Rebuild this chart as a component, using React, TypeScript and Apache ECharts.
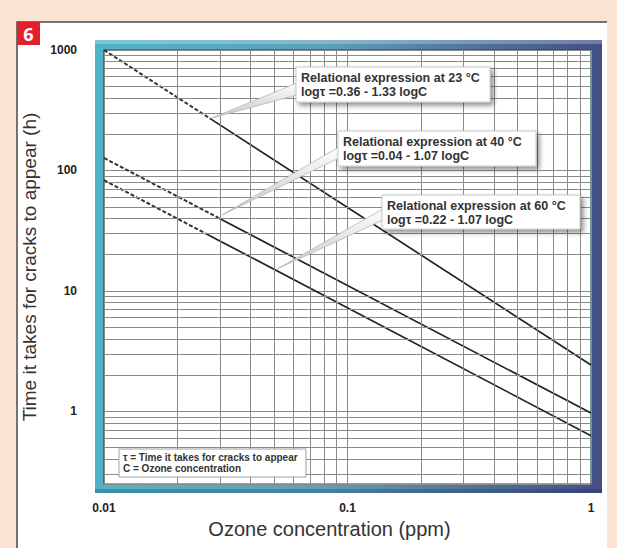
import React, { useEffect, useRef } from "react";
import * as echarts from "echarts";

// ---------- data ----------
const xLabelTicks = [0.01, 0.1, 1];
const yLabelTicks = [1, 10, 100, 1000];
const xMinorGridValues = [0.02, 0.03, 0.04, 0.05, 0.06, 0.07, 0.08, 0.09, 0.2, 0.3, 0.4, 0.5, 0.6, 0.7, 0.8, 0.9];
const yMinorGridValues = [
  0.3, 0.4, 0.5, 0.6, 0.7, 0.8, 0.9,
  2, 3, 4, 5, 6, 7, 8, 9,
  20, 30, 40, 50, 60, 70, 80, 90,
  200, 300, 400, 500, 600, 700, 800, 900,
];

// [ozone concentration (ppm), time to cracks (h)]
const extrapolated23 = [[0.01, 1000], [0.0275, 267]];
const measured23 = [[0.0275, 267], [1, 2.43]];
const extrapolated40 = [[0.01, 127], [0.0294, 40.6]];
const measured40 = [[0.0294, 40.6], [1, 0.97]];
const extrapolated60 = [[0.01, 83], [0.026, 30.2]];
const measured60 = [[0.026, 30.2], [1, 0.63]];

const calloutTitles = [
  "Relational expression at 23 °C",
  "Relational expression at 40 °C",
  "Relational expression at 60 °C",
];
const calloutFormulas = [
  "logτ =0.36 - 1.33 logC",
  "logτ =0.04 - 1.07 logC",
  "logτ =0.22 - 1.07 logC",
];
const legendLines = ["τ = Time it takes for cracks to appear", "C = Ozone concentration"];
const xAxisTitle = "Ozone concentration (ppm)";
const yAxisTitle = "Time it takes for cracks to appear (h)";
const badgeText = "6";

// ---------- layout ----------
const FONT = '"Liberation Sans", Arial, Helvetica, sans-serif';
const GRID = { left: 104, top: 50, width: 487, height: 434 };

const calloutBoxes = [
  { x: 296, y: 67, w: 194, h: 35, leader: [[297, 83], [297, 95], [212, 118]] },
  { x: 338, y: 131, w: 198, h: 35, leader: [[339, 147], [339, 158], [222, 215]] },
  { x: 382, y: 195, w: 198, h: 34, leader: [[383, 209], [383, 220], [277, 269]] },
];

function matchTick(list: number[], v: number) {
  return list.find((t) => Math.abs(Math.log10(t) - Math.log10(v)) < 1e-6);
}

export default function App() {
  const ref = useRef<HTMLDivElement>(null);

  useEffect(() => {
    if (!ref.current) return;
    const chart = echarts.init(ref.current, undefined, { renderer: "svg" });

    const solid = { color: "#222", width: 1.7, type: "solid" as const };
    const dashed = { color: "#333", width: 2, type: [4, 2] as any };
    const mkLine = (name: string, data: number[][], style: any) => ({
      name,
      type: "line",
      data,
      symbol: "none",
      showSymbol: false,
      silent: true,
      z: 3,
      lineStyle: style,
    });

    const graphics: any[] = [];
    // page panel
    graphics.push({
      type: "rect", z: -30, silent: true,
      shape: { x: 17, y: 22, width: 590, height: 540 },
      style: { fill: "#ffffff" },
    });
    graphics.push({
      type: "polyline", z: -29, silent: true,
      shape: { points: [[17, 548], [17, 22], [607, 22]] },
      style: { stroke: "#4a4a4a", lineWidth: 1.5, fill: null },
    });
    // badge
    graphics.push({
      type: "rect", z: -28, silent: true,
      shape: { x: 17, y: 22, width: 23, height: 23 },
      style: { fill: "#e41e2b" },
    });
    graphics.push({
      type: "text", z: -27, silent: true,
      style: {
        text: badgeText, x: 28.5, y: 34, align: "center", verticalAlign: "middle",
        font: 'bold 18px "Open Sans", "Liberation Sans", sans-serif', fill: "#ffffff",
      },
    });
    // plot frame
    graphics.push({
      type: "rect", z: -20, silent: true,
      shape: { x: 95, y: 40, width: 507, height: 453 },
      style: {
        fill: new echarts.graphic.LinearGradient(0, 0, 1, 0, [
          { offset: 0, color: "#4fb4c9" },
          { offset: 0.45, color: "#5d9fbb" },
          { offset: 1, color: "#444f85" },
        ]),
      },
    });
    graphics.push({
      type: "rect", z: -19, silent: true,
      shape: { x: 95, y: 40, width: 507, height: 4 },
      style: { fill: "rgba(255,255,255,0.25)" },
    });
    graphics.push({
      type: "rect", z: -19, silent: true,
      shape: { x: 95, y: 489, width: 507, height: 4 },
      style: { fill: "rgba(20,30,70,0.25)" },
    });

    // callouts
    calloutBoxes.forEach((b, i) => {
      graphics.push({
        type: "polygon", z: 40, silent: true,
        shape: { points: b.leader },
        style: {
          fill: new echarts.graphic.LinearGradient(0, 0, 0, 1, [
            { offset: 0, color: "#ffffff" },
            { offset: 1, color: "#c8c8c8" },
          ]),
          stroke: "#b5b5b5", lineWidth: 0.8,
        },
      });
      graphics.push({
        type: "rect", z: 41, silent: true,
        shape: { x: b.x, y: b.y, width: b.w, height: b.h },
        style: {
          fill: "#ffffff", stroke: "#c9c9c9", lineWidth: 1,
          shadowBlur: 5, shadowOffsetX: 3, shadowOffsetY: 3, shadowColor: "rgba(0,0,0,0.45)",
        },
      });
      graphics.push({
        type: "text", z: 42, silent: true,
        style: {
          text: calloutTitles[i], x: b.x + 5, y: b.y + 10.5, verticalAlign: "middle",
          font: `bold 12.5px ${FONT}`, fill: "#333",
        },
      });
      graphics.push({
        type: "text", z: 42, silent: true,
        style: {
          text: calloutFormulas[i], x: b.x + 5, y: b.y + 24.5, verticalAlign: "middle",
          font: `bold 12.5px ${FONT}`, fill: "#333",
        },
      });
    });

    // legend note box
    graphics.push({
      type: "rect", z: 40, silent: true,
      shape: { x: 119, y: 449, width: 187, height: 28 },
      style: { fill: "#ffffff", stroke: "#a0a0a0", lineWidth: 1 },
    });
    legendLines.forEach((t, i) => {
      graphics.push({
        type: "text", z: 41, silent: true,
        style: {
          text: t, x: 123, y: 457 + i * 11.5, verticalAlign: "middle",
          font: `bold 10px ${FONT}`, fill: "#333",
        },
      });
    });

    const option: any = {
      animation: false,
      backgroundColor: "#fce4d4",
      grid: {
        left: GRID.left, top: GRID.top, width: GRID.width, height: GRID.height,
        show: true, backgroundColor: "#ffffff", borderColor: "#1d4a55", borderWidth: 1.2,
        containLabel: false,
      },
      xAxis: {
        type: "log", logBase: 10, min: 0.01, max: 1,
        axisLine: { show: false }, axisTick: { show: false },
        axisLabel: {
          margin: 18, fontFamily: FONT, fontWeight: "bold", fontSize: 12, color: "#222",
          formatter: (v: number) => {
            const t = matchTick(xLabelTicks, v);
            return t === undefined ? "" : String(t);
          },
        },
        splitLine: { show: true, lineStyle: { color: "#8a8a8a", width: 1 } },
        name: xAxisTitle, nameLocation: "middle", nameGap: 32,
        nameTextStyle: { fontFamily: FONT, fontSize: 20, color: "#333", padding: [0, 36, 0, 0] },
      },
      yAxis: {
        type: "log", logBase: 10, min: 0.25, max: 1000,
        axisLine: { show: false }, axisTick: { show: false },
        axisLabel: {
          margin: 27, fontFamily: FONT, fontWeight: "bold", fontSize: 12, color: "#222",
          formatter: (v: number) => {
            const t = matchTick(yLabelTicks, v);
            return t === undefined ? "" : String(t);
          },
        },
        splitLine: { show: true, lineStyle: { color: "#8a8a8a", width: 1 } },
        name: yAxisTitle, nameLocation: "middle", nameGap: 50,
        nameTextStyle: { fontFamily: FONT, fontSize: 19, color: "#333" },
      },
      graphic: graphics,
      series: [
        {
          name: "grid",
          type: "line",
          data: [],
          z: 1,
          silent: true,
          markLine: {
            silent: true,
            symbol: ["none", "none"],
            label: { show: false },
            lineStyle: { color: "#8a8a8a", width: 1, type: "solid" },
            emphasis: { disabled: true },
            data: [
              ...xMinorGridValues.map((v) => ({ xAxis: v })),
              ...yMinorGridValues.map((v) => ({ yAxis: v })),
            ],
          },
        },
        mkLine("23 °C extrapolated", extrapolated23, dashed),
        mkLine("23 °C", measured23, solid),
        mkLine("40 °C extrapolated", extrapolated40, dashed),
        mkLine("40 °C", measured40, solid),
        mkLine("60 °C extrapolated", extrapolated60, dashed),
        mkLine("60 °C", measured60, solid),
      ],
    };

    chart.setOption(option);
    return () => chart.dispose();
  }, []);

  return (
    <div
      ref={ref}
      style={{ position: "absolute", left: 0, top: 0, width: 617, height: 548 }}
    />
  );
}
